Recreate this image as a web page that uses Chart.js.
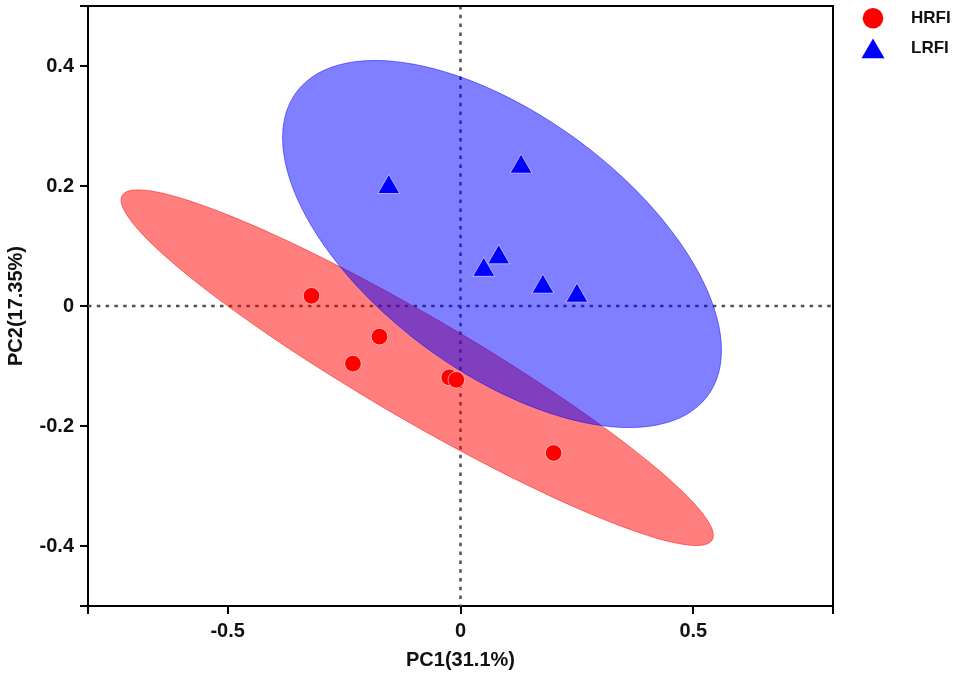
<!DOCTYPE html>
<html>
<head>
<meta charset="utf-8">
<title>PCA HRFI / LRFI</title>
<script src="https://cdn.jsdelivr.net/npm/chart.js@4.4.1/dist/chart.umd.min.js"></script>
<style>
  html, body { margin: 0; padding: 0; background: #fff; }
  .box { position: relative; width: 957px; height: 678px; }
</style>
</head>
<body>
<div class="box"><canvas class="pcaCanvas"></canvas></div>
<script>
const groups = ["HRFI", "LRFI"];

const hrfiPC1 = [-0.320, -0.174, -0.231, -0.024, -0.009, 0.200];
const hrfiPC2 = [0.017, -0.051, -0.096, -0.119, -0.123, -0.245];

const lrfiPC1 = [-0.154, 0.130, 0.082, 0.050, 0.177, 0.250];
const lrfiPC2 = [0.198, 0.232, 0.081, 0.060, 0.032, 0.017];

const xTicks = [-0.8, -0.5, 0, 0.5, 0.8];
const xTickLabels = ["", "-0.5", "0", "0.5", ""];
const yTicks = [-0.5, -0.4, -0.2, 0, 0.2, 0.4, 0.5];
const yTickLabels = ["", "-0.4", "-0.2", "0", "0.2", "0.4", ""];

const xTitle = "PC1(31.1%)";
const yTitle = "PC2(17.35%)";

// 95% quantile of F(2, n-1) with n = 6 (same radius as ggplot stat_ellipse)
const F95 = 5.786;

const font = "'Liberation Sans', Arial, Helvetica, sans-serif";

function toPoints(xs, ys) {
    return xs.map((v, i) => ({ x: v, y: ys[i] }));
}

// confidence ellipse of a group, in data units
function ellipsePoints(pts) {
    const n = pts.length;
    const mx = pts.reduce((a, p) => a + p.x, 0) / n;
    const my = pts.reduce((a, p) => a + p.y, 0) / n;
    let sxx = 0, syy = 0, sxy = 0;
    pts.forEach(p => {
        sxx += (p.x - mx) * (p.x - mx);
        syy += (p.y - my) * (p.y - my);
        sxy += (p.x - mx) * (p.y - my);
    });
    sxx /= n - 1; syy /= n - 1; sxy /= n - 1;
    const a = Math.sqrt(sxx);
    const b = sxy / a;
    const c = Math.sqrt(syy - b * b);
    const r = Math.sqrt(2 * F95);
    const out = [];
    for (let k = 0; k <= 120; k++) {
        const t = k / 120 * 2 * Math.PI;
        const u = Math.cos(t), v = Math.sin(t);
        out.push({ x: mx + r * a * u, y: my + r * (b * u + c * v) });
    }
    return out;
}

const pcaDecor = {
    id: "pcaDecor",
    beforeDatasetsDraw(chart) {
        const { ctx, chartArea: area, scales: { x, y } } = chart;
        ctx.save();

        // dotted zero lines
        const x0 = x.getPixelForValue(0);
        const y0 = y.getPixelForValue(0);
        ctx.strokeStyle = "#505050";
        ctx.lineWidth = 2.5;
        ctx.setLineDash([3.5, 5.3]);
        ctx.beginPath();
        ctx.moveTo(x0, area.top);
        ctx.lineTo(x0, area.bottom);
        ctx.moveTo(area.left, y0);
        ctx.lineTo(area.right, y0);
        ctx.stroke();
        ctx.setLineDash([]);

        // group ellipses
        chart.data.datasets.forEach(ds => {
            const pts = ellipsePoints(ds.data);
            ctx.beginPath();
            pts.forEach((p, i) => {
                const px = x.getPixelForValue(p.x);
                const py = y.getPixelForValue(p.y);
                if (i === 0) ctx.moveTo(px, py); else ctx.lineTo(px, py);
            });
            ctx.closePath();
            ctx.fillStyle = ds.ellipseColor;
            ctx.fill();
            ctx.strokeStyle = ds.ellipseColor;
            ctx.lineWidth = 1;
            ctx.stroke();
        });
        ctx.restore();
    },
    afterDraw(chart) {
        const { ctx, chartArea: area } = chart;
        ctx.save();

        // top and right frame
        ctx.strokeStyle = "#000";
        ctx.lineWidth = 2;
        ctx.beginPath();
        ctx.moveTo(area.left, area.top);
        ctx.lineTo(area.right, area.top);
        ctx.lineTo(area.right, area.bottom);
        ctx.stroke();

        // legend
        const markerRows = [18.3, 51.7];
        const textRows = [18, 48.6];
        chart.data.datasets.forEach((ds, i) => {
            ctx.fillStyle = ds.backgroundColor;
            ctx.strokeStyle = ds.backgroundColor;
            Chart.helpers.drawPoint(ctx, {
                pointStyle: ds.pointStyle,
                radius: ds.legendRadius,
                rotation: 0,
                borderWidth: 0
            }, area.right + 40, markerRows[i]);
            ctx.fillStyle = "#111";
            ctx.font = "bold 17px " + font;
            ctx.textBaseline = "middle";
            ctx.textAlign = "left";
            ctx.fillText(ds.label, area.right + 78, textRows[i]);
        });
        ctx.restore();
    }
};

const pcaCanvas = document.querySelector(".pcaCanvas");

const pcaChart = new Chart(pcaCanvas, {
    type: "scatter",
    data: {
        datasets: [{
            label: groups[0],
            data: toPoints(hrfiPC1, hrfiPC2),
            pointStyle: "circle",
            pointRadius: 8.3,
            legendRadius: 10.3,
            backgroundColor: "#ff0000",
            borderColor: "rgba(255,255,255,0.55)",
            borderWidth: 1,
            ellipseColor: "rgba(255,0,0,0.5)"
        }, {
            label: groups[1],
            data: toPoints(lrfiPC1, lrfiPC2),
            pointStyle: "triangle",
            pointRadius: 12.7,
            legendRadius: 13.3,
            backgroundColor: "#0000ff",
            borderColor: "rgba(255,255,255,0.55)",
            borderWidth: 1,
            ellipseColor: "rgba(0,0,255,0.5)"
        }]
    },
    options: {
        responsive: true,
        maintainAspectRatio: false,
        animation: false,
        events: [],
        layout: { autoPadding: false, padding: { top: 6, right: 124, left: 0, bottom: 0 } },
        plugins: {
            legend: { display: false },
            tooltip: { enabled: false }
        },
        scales: {
            x: {
                type: "linear",
                min: -0.8,
                max: 0.8,
                afterBuildTicks: s => { s.ticks = xTicks.map(v => ({ value: v })); },
                afterFit: s => { s.height = 72; s.paddingLeft = 0; s.paddingRight = 0; },
                ticks: {
                    callback: v => xTickLabels[xTicks.indexOf(v)],
                    autoSkip: false,
                    maxRotation: 0,
                    padding: 5,
                    color: "#111",
                    font: { family: font, size: 20, weight: "bold" }
                },
                grid: { drawOnChartArea: false, drawTicks: true, tickLength: 8, color: "#000", lineWidth: 2 },
                border: { display: true, color: "#000", width: 2 },
                title: {
                    display: true,
                    text: xTitle,
                    color: "#111",
                    padding: { top: 0, bottom: 6 },
                    font: { family: font, size: 20, weight: "bold" }
                }
            },
            y: {
                type: "linear",
                min: -0.5,
                max: 0.5,
                afterBuildTicks: s => { s.ticks = yTicks.map(v => ({ value: v })); },
                afterFit: s => { s.width = 88; s.paddingTop = 0; s.paddingBottom = 0; },
                ticks: {
                    callback: v => yTickLabels[yTicks.indexOf(v)],
                    autoSkip: false,
                    padding: 6,
                    color: "#111",
                    font: { family: font, size: 20, weight: "bold" }
                },
                grid: { drawOnChartArea: false, drawTicks: true, tickLength: 8, color: "#000", lineWidth: 2 },
                border: { display: true, color: "#000", width: 2 },
                title: {
                    display: true,
                    text: yTitle,
                    color: "#111",
                    padding: { top: 4, bottom: 0 },
                    font: { family: font, size: 20, weight: "bold" }
                }
            }
        }
    },
    plugins: [pcaDecor]
});
</script>
</body>
</html>
